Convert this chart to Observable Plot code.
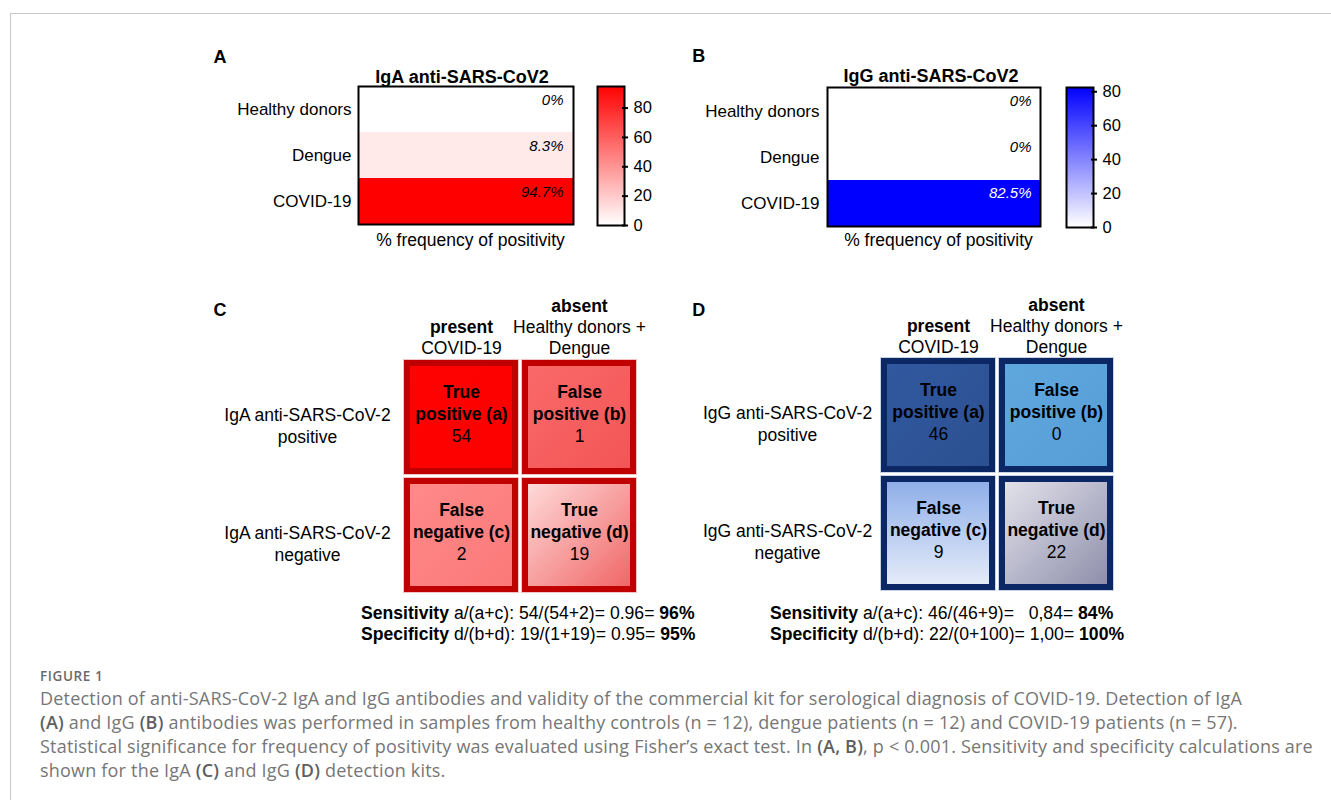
<!DOCTYPE html>
<html><head><meta charset="utf-8">
<script src="https://cdn.jsdelivr.net/npm/d3@7"></script>
<script src="https://cdn.jsdelivr.net/npm/@observablehq/plot@0.6"></script>
<style>
body{margin:0;background:#fff;}
#root{position:relative;width:1331px;height:800px;overflow:hidden;background:#fff;font-family:'Liberation Sans',Arial,sans-serif;}
#border{position:absolute;left:10px;top:13px;right:-2px;bottom:-2px;border-top:1px solid #c8c8c8;border-left:1px solid #c8c8c8;}
.p{position:absolute;}
.stats{position:absolute;font-size:17.6px;line-height:21.5px;white-space:pre;color:#000;}
.cap{position:absolute;left:40px;font-family:'Open Sans',sans-serif;color:#767676;white-space:nowrap;}
.cap b{font-weight:600;color:#5e5e5e;}
</style></head><body><div id="root"><div id="border"></div></div>
<script>
// ---------------- data ----------------
const groups = ["Healthy donors", "Dengue", "COVID-19"];
const igaPositivity = [0, 8.3, 94.7];
const iggPositivity = [0, 0, 82.5];
const colorbarTicks = [0, 20, 40, 60, 80];
const outcomes = ["present", "absent"];
const outcomeGroups = ["COVID-19", "Healthy donors +\nDengue"];
const testResults = ["positive", "negative"];
const cellKeys = ["a", "b", "c", "d"];
const cellNames = ["True\npositive (a)", "False\npositive (b)", "False\nnegative (c)", "True\nnegative (d)"];
const igaCounts = [54, 1, 2, 19];
const iggCounts = [46, 0, 9, 22];
const igaStats = [["Sensitivity", " a/(a+c): 54/(54+2)= 0.96= ", "96%"], ["Specificity", " d/(b+d): 19/(1+19)= 0.95= ", "95%"]];
const iggStats = [["Sensitivity", " a/(a+c): 46/(46+9)=   0,84= ", "84%"], ["Specificity", " d/(b+d): 22/(0+100)= 1,00= ", "100%"]];
const captionTitle = "FIGURE 1";
const captionLines = [
  "Detection of anti-SARS-CoV-2 IgA and IgG antibodies and validity of the commercial kit for serological diagnosis of COVID-19. Detection of IgA",
  "<b>(A)</b> and IgG <b>(B)</b> antibodies was performed in samples from healthy controls (n = 12), dengue patients (n = 12) and COVID-19 patients (n = 57).",
  "Statistical significance for frequency of positivity was evaluated using Fisher\u2019s exact test. In <b>(A, B)</b>, p &lt; 0.001. Sensitivity and specificity calculations are",
  "shown for the IgA <b>(C)</b> and IgG <b>(D)</b> detection kits."
];

// ---------------- styles ----------------
const FONT = "'Liberation Sans', Arial, Helvetica, sans-serif";
const baseStyle = {fontFamily: FONT, fontSize: "17px", background: "transparent", overflow: "visible", color: "#000"};
const gradientsC = {
  a: [["#ff0202", "#fc0000"], "diag"],
  b: [["#fa6a6a", "#f35454"], "diag"],
  c: [["#ff8a8a", "#fb7878"], "diag"],
  d: [["#ffe0e0", "#f06060"], "diag"]
};
const gradientsD = {
  a: [["#3159a0", "#2c5090"], "diag"],
  b: [["#5fa8de", "#569dd6"], "diag"],
  c: [["#8aabe8", "#e9eff9"], "vert"],
  d: [["#e6e6ee", "#8a8aa8"], "diag"]
};

const root = document.getElementById("root");
const defsSvg = d3.select(root).append("svg").attr("width", 0).attr("height", 0).style("position", "absolute");
const defs = defsSvg.append("defs");
function addGradient(id, stops, dir) {
  const g = defs.append("linearGradient").attr("id", id);
  if (dir === "diag") g.attr("x1", 0).attr("y1", 0).attr("x2", 1).attr("y2", 1);
  else if (dir === "vert") g.attr("x1", 0).attr("y1", 0).attr("x2", 0).attr("y2", 1);
  else if (dir === "up") g.attr("x1", 0).attr("y1", 1).attr("x2", 0).attr("y2", 0);
  stops.forEach((c, i) => g.append("stop").attr("offset", stops.length === 1 ? 0 : i / (stops.length - 1)).attr("stop-color", c));
}
function place(el, left, top) {
  el.classList.add("p");
  el.style.left = left + "px";
  el.style.top = top + "px";
  root.appendChild(el);
}

// ---------------- heatmap panels ----------------
function heatmapPanel(cfg) {
  const data = groups.map((g, i) => ({group: g, value: cfg.values[i]}));
  const max = d3.max(cfg.values);
  const plot = Plot.plot({
    width: 400, height: 220, ...cfg.margins,
    style: baseStyle,
    y: {domain: groups, padding: 0, label: null},
    color: {type: "linear", domain: [0, max], range: ["#ffffff", cfg.color]},
    marks: [
      Plot.cell(data, {y: "group", fill: "value"}),
      Plot.frame({stroke: "#000", strokeWidth: 2}),
      Plot.axisY({tickSize: 0, tickPadding: cfg.tickPadding, fontSize: 17, label: null}),
      Plot.text(data.filter(d => d.value <= max / 2), {y: "group", text: d => `${d.value}%`, frameAnchor: "right", textAnchor: "end", dx: cfg.valDx, dy: cfg.valDy, lineAnchor: "bottom", fontStyle: "italic", fontSize: 15, fill: "#000"}),
      Plot.text(data.filter(d => d.value > max / 2), {y: "group", text: d => `${d.value}%`, frameAnchor: "right", textAnchor: "end", dx: cfg.valDx, dy: cfg.valDy, lineAnchor: "bottom", fontStyle: "italic", fontSize: 15, fill: cfg.highFill}),
      Plot.text([cfg.title], {frameAnchor: "top", lineAnchor: "bottom", dx: cfg.titleDx, dy: cfg.titleDy, fontWeight: "bold", fontSize: 18}),
      Plot.text(["% frequency of positivity"], {frameAnchor: "bottom", lineAnchor: "bottom", dx: cfg.labelDx, dy: cfg.labelDy, fontSize: 17.5}),
      Plot.text([cfg.letter], {frameAnchor: "top-left", textAnchor: "start", lineAnchor: "bottom", dx: cfg.letterDx, dy: cfg.letterDy, fontWeight: "bold", fontSize: 18})
    ]
  });
  place(plot, cfg.left, cfg.top);

  // colorbar built from the heatmap's own color scale
  const scale = plot.scale("color");
  const stops = d3.range(0, 11).map(i => scale.apply(max * i / 10));
  addGradient(cfg.id, stops, "up");
  const bar = Plot.plot({
    width: 90, height: 220, ...cfg.barMargins,
    style: {...baseStyle, fontSize: "16.5px"},
    x: {domain: [0, 1], axis: null},
    y: {domain: [0, max], label: null},
    marks: [
      Plot.rect([{lo: 0, hi: max}], {x1: 0, x2: 1, y1: "lo", y2: "hi", fill: `url(#${cfg.id})`}),
      Plot.frame({stroke: "#000", strokeWidth: 2}),
      Plot.axisY(colorbarTicks, {anchor: "right", tickSize: 6, tickPadding: 6, dx: -3, strokeWidth: 2, fontSize: 16.5, label: null})
    ]
  });
  place(bar, cfg.barLeft, cfg.top);
}

heatmapPanel({
  values: igaPositivity, color: "#ff0000", highFill: "#000", title: "IgA anti-SARS-CoV2", letter: "A", id: "barA",
  left: 200, top: 40, margins: {marginLeft: 158, marginRight: 27, marginTop: 46, marginBottom: 36},
  tickPadding: 7, valDx: -10, valDy: -5, titleDx: -4, titleDy: -4, labelDx: 4.5, labelDy: 21, letterDx: -145, letterDy: -23.3,
  barLeft: 580, barMargins: {marginLeft: 17, marginRight: 46, marginTop: 46, marginBottom: 35}
});
heatmapPanel({
  values: iggPositivity, color: "#0000ff", highFill: "#fff", title: "IgG anti-SARS-CoV2", letter: "B", id: "barB",
  left: 680, top: 40, margins: {marginLeft: 147, marginRight: 40, marginTop: 47, marginBottom: 34},
  tickPadding: 8, valDx: -9, valDy: -6, titleDx: -3, titleDy: -5.3, labelDx: 4.5, labelDy: 19, letterDx: -135.3, letterDy: -25.3,
  barLeft: 1050, barMargins: {marginLeft: 16, marginRight: 47, marginTop: 47, marginBottom: 33}
});

// ---------------- 2x2 matrix panels ----------------
function matrixPanel(cfg) {
  const fills = {};
  cellKeys.forEach(k => {
    const id = `${cfg.prefix}_${k}`;
    addGradient(id, cfg.gradients[k][0], cfg.gradients[k][1]);
    fills[k] = `url(#${id})`;
  });
  const cells = cellKeys.map((k, i) => ({key: k, outcome: outcomes[i % 2], test: testResults[Math.floor(i / 2)], name: cellNames[i], count: cfg.counts[i]}));
  const cols = outcomes.map((o, i) => ({outcome: o, group: outcomeGroups[i]}));
  const rows = testResults.map(t => ({test: t, label: `${cfg.antibody} anti-SARS-CoV-2\n${t}`}));
  const lh = 21 / 17.5;
  const plot = Plot.plot({
    width: cfg.width, height: 310, ...cfg.margins,
    style: {...baseStyle, fontSize: "17.5px"},
    x: {domain: outcomes, padding: 0, axis: null},
    y: {domain: testResults, padding: 0, axis: null},
    marks: [
      Plot.cell(cells, {x: "outcome", y: "test", fill: "none", stroke: cfg.halo, strokeWidth: 1, inset: 1.5}),
      Plot.cell(cells, {x: "outcome", y: "test", fill: d => fills[d.key], inset: 2}),
      Plot.cell(cells, {x: "outcome", y: "test", fill: "none", stroke: cfg.border, strokeWidth: 6, inset: 5}),
      Plot.text(cells, {x: "outcome", y: "test", text: "name", fontWeight: "bold", lineAnchor: "bottom", lineHeight: 22 / 17.5, dy: 2.5}),
      Plot.text(cells, {x: "outcome", y: "test", text: d => String(d.count), lineAnchor: "bottom", dy: 24}),
      Plot.text(cols, {x: "outcome", text: d => d.outcome + "\n".repeat(d.group.split("\n").length), frameAnchor: "top", lineAnchor: "bottom", lineHeight: lh, dy: -4, fontWeight: "bold"}),
      Plot.text(cols, {x: "outcome", text: "group", frameAnchor: "top", lineAnchor: "bottom", lineHeight: lh, dy: -4}),
      Plot.text(rows, {y: "test", text: "label", frameAnchor: "left", textAnchor: "middle", dx: cfg.rowDx, lineAnchor: "middle", lineHeight: 22 / 17.5, dy: 7.5}),
      Plot.text([cfg.letter], {frameAnchor: "top-left", textAnchor: "start", lineAnchor: "bottom", dx: cfg.letterDx, dy: cfg.letterDy, fontWeight: "bold", fontSize: 18})
    ]
  });
  place(plot, cfg.left, cfg.top);

  const s = document.createElement("div");
  s.className = "stats";
  s.style.left = cfg.statsLeft + "px";
  s.style.top = "602.5px";
  s.innerHTML = cfg.stats.map(([a, b, c]) => `<b>${a}</b>${b}<b>${c}</b>`).join("\n");
  root.appendChild(s);
}

matrixPanel({
  prefix: "mC", gradients: gradientsC, counts: igaCounts, antibody: "IgA", letter: "C",
  border: "#c00000", halo: "#f3c2c2", width: 500, left: 200, top: 290,
  margins: {marginLeft: 201, marginRight: 62, marginTop: 67, marginBottom: 6},
  rowDx: -94, letterDx: -188, letterDy: -42, stats: igaStats, statsLeft: 361
});
matrixPanel({
  prefix: "mD", gradients: gradientsD, counts: iggCounts, antibody: "IgG", letter: "D",
  border: "#0c2864", halo: "#c9d3e6", width: 460, left: 680, top: 290,
  margins: {marginLeft: 199, marginRight: 25, marginTop: 66, marginBottom: 8},
  rowDx: -92, letterDx: -187.3, letterDy: -41, stats: iggStats, statsLeft: 770
});

// ---------------- caption ----------------
const capT = document.createElement("div");
capT.className = "cap";
capT.style.cssText += "top:667.5px;font-size:13.5px;line-height:16px;font-weight:600;letter-spacing:0.6px;color:#6a6a6a;";
capT.textContent = captionTitle;
root.appendChild(capT);
const cap = document.createElement("div");
cap.className = "cap";
cap.style.cssText += "top:686px;font-size:18px;line-height:24px;letter-spacing:0.2px;";
cap.innerHTML = captionLines.join("<br>");
root.appendChild(cap);
</script>
</body></html>
